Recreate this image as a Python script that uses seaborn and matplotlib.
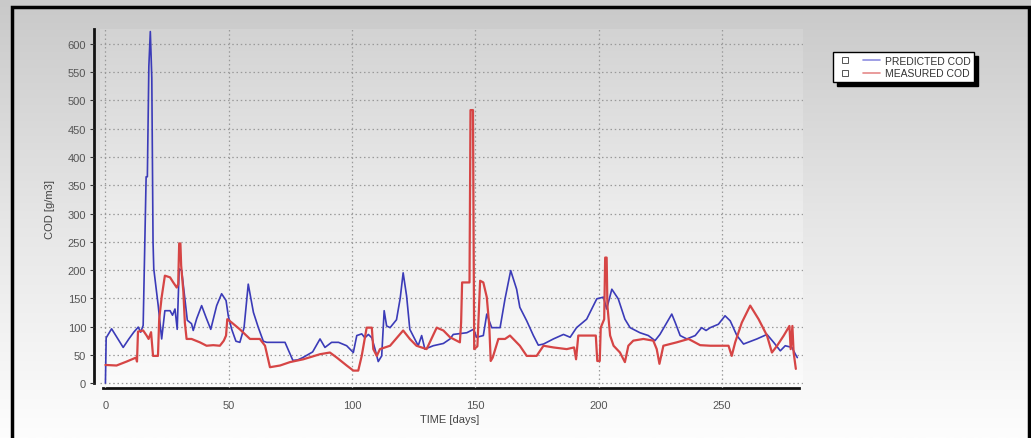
import numpy as np
import pandas as pd
import matplotlib
matplotlib.use("Agg")
import matplotlib.pyplot as plt
import seaborn as sns
from matplotlib.lines import Line2D
from matplotlib.patches import Rectangle
from matplotlib.legend_handler import HandlerTuple
from matplotlib.ticker import MultipleLocator

# PREDICTED COD (blue)
pred_days = [0.0, 0.3, 2.5, 4.5, 7.2, 9.5, 11.5, 13.3, 14.3, 15.3, 16.5, 17.0, 17.6, 18.2, 18.8,
             19.3, 19.6, 21.4, 22.8, 24.1, 26.2, 27.2, 28.2, 29.1, 29.9, 30.9, 32.2, 33.2, 34.9,
             35.6, 37.0, 39.0, 40.8, 42.7, 45.1, 47.1, 48.9, 49.8, 51.2, 52.9, 54.5, 56.2, 57.9,
             60.0, 62.0, 64.0, 65.4, 72.8, 76.0, 78.0, 80.0, 84.0, 87.0, 89.0, 91.7, 94.5, 97.8,
             100.5, 101.9, 103.9, 105.2, 106.6, 108.0, 109.3, 110.6, 112.0, 113.0, 114.0, 115.4,
             118.0, 119.5, 120.7, 122.1, 123.4, 125.4, 126.8, 128.2, 129.5, 132.9, 137.0, 139.7,
             141.0, 146.5, 149.2, 150.5, 153.2, 154.6, 156.6, 160.0, 162.0, 164.3, 166.7, 168.0,
             170.8, 173.5, 175.5, 177.6, 181.6, 185.7, 188.4, 191.0, 195.1, 199.2, 201.9, 203.2,
             205.3, 207.9, 210.6, 212.7, 216.7, 220.1, 222.8, 224.8, 227.6, 229.6, 231.0, 233.0,
             235.7, 239.1, 241.7, 243.5, 245.2, 248.5, 251.2, 253.3, 256.0, 258.7, 264.1, 268.2,
             270.9, 273.6, 275.6, 278.3, 279.7, 280.5]
pred_cod = [0, 80, 96, 82, 63, 78, 90, 99, 90, 102, 365, 365, 560, 622, 540,
            250, 202, 137, 78, 128, 128, 120, 131, 95, 202, 199, 149, 111, 105,
            93, 114, 137, 116, 95, 137, 158, 146, 119, 95, 74, 72, 98, 175,
            125, 98, 74, 72, 72, 40, 41, 45, 55, 78, 63, 72, 72, 66,
            54, 84, 87, 80, 86, 80, 60, 38, 48, 128, 101, 98,
            112, 150, 195, 154, 95, 78, 66, 84, 60, 66, 70, 78,
            86, 89, 95, 81, 84, 122, 98, 98, 149, 199, 166, 134,
            110, 84, 67, 69, 78, 86, 81, 98, 113, 149, 152, 131,
            166, 149, 113, 98, 89, 84, 75, 86, 107, 122, 107, 84,
            78, 84, 98, 93, 98, 104, 119, 110, 84, 69, 78, 86,
            72, 57, 66, 63, 51, 45]

# MEASURED COD (red)
meas_days = [0.0, 4.5, 8.6, 12.4, 12.8, 13.2, 15.3, 16.7, 17.5, 18.5, 19.3, 21.3, 21.8, 22.8,
             24.1, 26.2, 27.5, 28.9, 29.5, 29.9, 30.4, 30.7, 31.6, 32.2, 32.9, 34.9, 38.3, 41.0,
             43.7, 46.4, 48.0, 48.9, 49.4, 51.2, 54.5, 58.6, 62.6, 64.7, 66.7, 70.8, 74.8, 80.2,
             87.0, 91.0, 93.8, 97.8, 100.5, 102.5, 103.9, 105.9, 108.0, 108.6, 110.0, 111.3,
             115.4, 120.7, 123.4, 126.1, 130.2, 134.3, 137.0, 139.7, 143.7, 144.2, 144.6, 147.6,
             148.0, 149.0, 149.5, 150.8, 151.3, 151.9, 153.2, 154.6, 155.6, 156.2, 157.0, 159.3,
             162.0, 164.0, 166.0, 168.0, 170.8, 174.8, 177.6, 181.6, 187.0, 190.0, 190.8, 191.7,
             198.8, 199.4, 200.4, 200.8, 202.2, 202.6, 203.2, 203.5, 204.6, 206.0, 208.6, 210.6,
             212.0, 214.0, 218.1, 222.1, 223.5, 224.6, 226.2, 231.6, 236.4, 241.1, 245.2, 252.6,
             253.9, 255.3, 258.0, 261.4, 264.8, 268.2, 270.2, 272.3, 275.0, 277.3, 277.8, 278.5,
             279.0, 279.9]
meas_cod = [32, 31, 38, 45, 38, 91, 93, 84, 78, 90, 48, 48, 113, 152,
            190, 187, 178, 169, 175, 247, 247, 208, 161, 107, 78, 78, 72, 66,
            67, 66, 75, 84, 113, 107, 95, 78, 78, 66, 28, 31, 37, 42,
            51, 54, 45, 31, 22, 22, 48, 98, 98, 60, 48, 60,
            66, 93, 78, 66, 60, 98, 93, 81, 72, 107, 178, 178,
            483, 483, 60, 65, 119, 181, 178, 152, 102, 39, 45, 78,
            78, 84, 75, 66, 48, 48, 66, 63, 60, 63, 42, 84,
            84, 39, 39, 98, 113, 222, 222, 137, 84, 66, 54, 37,
            66, 75, 78, 75, 60, 34, 66, 72, 78, 67, 66, 66,
            48, 72, 107, 137, 113, 84, 54, 66, 84, 101, 60, 101,
            54, 25]

x_ticks = [0, 50, 100, 150, 200, 250]
y_ticks = list(range(0, 601, 50))

pred_df = pd.DataFrame({"day": pred_days, "cod": pred_cod})
meas_df = pd.DataFrame({"day": meas_days, "cod": meas_cod})

sns.set_theme(style="white")
plt.rcParams["font.family"] = ["Liberation Sans", "DejaVu Sans"]

W, H = 1031, 439
fig = plt.figure(figsize=(W / 100, H / 100), dpi=100)
fig.patch.set_facecolor("white")

# grey gradient background of the whole panel
bg = fig.add_axes([0, 0, 1, 1], zorder=-2)
grad = np.linspace(0, 1, 256).reshape(-1, 1)
bg.imshow(grad, aspect="auto", cmap=matplotlib.colors.LinearSegmentedColormap.from_list(
    "bg", ["#c9c9c9", "#e6e6e6", "#fdfdfd"]), extent=[0, 1, 0, 1], origin="upper")
bg.set_axis_off()

# plot area
ax_left, ax_right = 100 / W, 803 / W
ax_bottom, ax_top = (H - 389) / H, (H - 30) / H
ax = fig.add_axes([ax_left, ax_bottom, ax_right - ax_left, ax_top - ax_bottom])
ax.set_facecolor("none")
ax.imshow(grad, aspect="auto", cmap=matplotlib.colors.LinearSegmentedColormap.from_list(
    "pa", ["#d3d3d3", "#ececec", "#fbfbfb"]), extent=[0, 1, 0, 1], origin="upper",
    transform=ax.transAxes, zorder=0)

sns.lineplot(data=pred_df, x="day", y="cod", estimator=None, sort=False, ax=ax,
             color="#3b3bb8", lw=1.2, zorder=3)
sns.lineplot(data=meas_df, x="day", y="cod", estimator=None, sort=False, ax=ax,
             color="#d64545", lw=1.6, zorder=3)

ax.set_xlim(-2.2, 282.8)
ax.set_ylim(-8.8, 626.5)
ax.set_xticks(x_ticks)
ax.set_yticks(y_ticks)
ax.xaxis.set_minor_locator(MultipleLocator(12.5))
ax.grid(True, which="major", color="#9a9a9a", lw=0.9, ls=(0, (1.2, 2.2)), zorder=1)
ax.set_axisbelow(False)
for gl in ax.get_xgridlines() + ax.get_ygridlines():
    gl.set_zorder(1)

for s in ["top", "right"]:
    ax.spines[s].set_visible(False)
ax.spines["left"].set_position(("outward", 4))
ax.spines["left"].set_bounds(0, 626.5)
ax.spines["bottom"].set_bounds(-1, 281)
for s in ["left", "bottom"]:
    ax.spines[s].set_color("#111111")
    ax.spines[s].set_linewidth(2)

ax.tick_params(axis="x", which="major", length=0, pad=9, labelsize=8, labelcolor="#555555")
ax.tick_params(axis="x", which="minor", length=3, direction="in", color="#333333", width=0.8)
ax.tick_params(axis="y", which="major", length=3, width=0.8, color="#333333", pad=3,
               labelsize=8, labelcolor="#555555", left=True)

ax.set_xlabel("TIME [days]", fontsize=8, color="#444444")
ax.set_ylabel("COD [g/m3]", fontsize=8, color="#444444")
ax.xaxis.set_label_coords(0.498, -0.072)
ax.yaxis.set_label_coords(-0.064, 0.5)

# legend with small square + line handles
sq = dict(marker="s", mfc="none", mec="#555555", ms=4, ls="", mew=0.7)
handles = [(Line2D([], [], **sq), Line2D([], [], color="#8d8de0", lw=1.2)),
           (Line2D([], [], **sq), Line2D([], [], color="#e58a8a", lw=1.2))]
leg = fig.legend(handles, ["PREDICTED COD", "MEASURED COD"],
                 handler_map={tuple: HandlerTuple(ndivide=None, pad=0.9)},
                 loc="upper left", bbox_to_anchor=(833 / W, 1 - 53 / H),
                 fontsize=7.5, frameon=True, fancybox=False, handlelength=4.2,
                 handletextpad=0.4, borderpad=0.35, labelspacing=0.25, borderaxespad=0,
                 shadow={"color": "black", "alpha": 1, "ox": 3, "oy": -3})
leg.get_frame().set_edgecolor("black")
leg.get_frame().set_linewidth(1)
leg.get_frame().set_facecolor("white")
for t in leg.get_texts():
    t.set_color("#333333")

# black outer frame (left, top, right)
fig.patches.append(Rectangle((12 / W, -0.05), (1029 - 12) / W, 1.05 - 8 / H,
                             transform=fig.transFigure, fill=False, edgecolor="black",
                             lw=2.5, clip_on=False))

fig.savefig("out.png", dpi=100)
